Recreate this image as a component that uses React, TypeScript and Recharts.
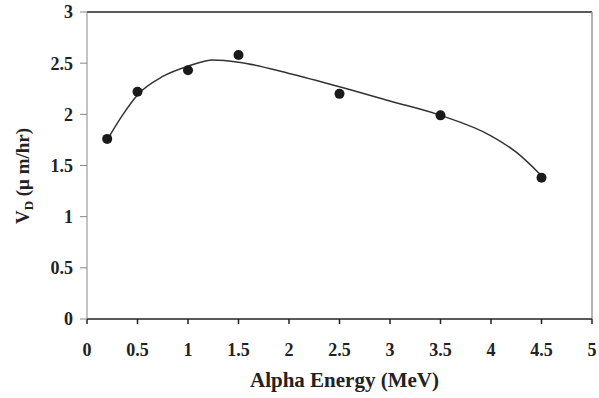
import React from "react";
import {
  ComposedChart,
  Line,
  Scatter,
  XAxis,
  YAxis,
  ReferenceLine,
} from "recharts";

// measured drift velocity points
const energies = [0.2, 0.5, 1.0, 1.5, 2.5, 3.5, 4.5];
const velocities = [1.76, 2.22, 2.43, 2.58, 2.2, 1.99, 1.38];

// trend line
const fitEnergies = [0.2, 0.35, 0.5, 0.75, 1.0, 1.25, 1.5, 2.0, 2.5, 3.0, 3.5, 4.0, 4.25, 4.5];
const fitVelocities = [1.75, 1.99, 2.19, 2.37, 2.47, 2.53, 2.51, 2.4, 2.27, 2.13, 1.99, 1.79, 1.63, 1.4];

const xTicks = [0, 0.5, 1, 1.5, 2, 2.5, 3, 3.5, 4, 4.5, 5];
const yTicks = [0, 0.5, 1, 1.5, 2, 2.5, 3];

const points = energies.map((x, i) => ({ x, y: velocities[i] }));
const fit = fitEnergies.map((x, i) => ({ x, y: fitVelocities[i] }));

const FONT = "'Liberation Serif', 'DejaVu Serif', serif";
const tickStyle = { fontFamily: FONT, fontWeight: 700, fontSize: 18, fill: "#222" };

const XLabel = (props: any) => {
  const vb = props.viewBox;
  return (
    <text
      x={vb.x + vb.width / 2 + 5}
      y={vb.y + 68}
      textAnchor="middle"
      fontFamily={FONT}
      fontWeight={700}
      fontSize={21}
      fill="#222"
    >
      Alpha Energy (MeV)
    </text>
  );
};

const YLabel = () => (
  <text
    x={0}
    y={0}
    transform="translate(29, 176) rotate(-90)"
    textAnchor="middle"
    fontFamily={FONT}
    fontWeight={700}
    fontSize={19}
    fill="#222"
  >
    V<tspan fontSize={13} dy={4}>D</tspan>
    <tspan dy={-4}> (μ m/hr)</tspan>
  </text>
);

export default function App() {
  return (
    <div style={{ position: "absolute", left: 0, top: 0, background: "#fff" }}>
      <ComposedChart
        width={599}
        height={398}
        margin={{ top: 12, right: 7, left: 0, bottom: 0 }}
      >
        <XAxis
          type="number"
          dataKey="x"
          domain={[0, 5]}
          ticks={xTicks}
          height={79}
          tickSize={5}
          tickMargin={19}
          tick={tickStyle}
          stroke="#222"
          strokeWidth={1.5}
          label={<XLabel />}
        />
        <YAxis
          type="number"
          dataKey="y"
          domain={[0, 3]}
          ticks={yTicks}
          width={87}
          tickSize={7}
          tickMargin={7}
          tick={tickStyle}
          stroke="#888"
          label={<YLabel />}
        />
        <ReferenceLine y={3} stroke="#222" strokeWidth={1.5} />
        <ReferenceLine x={5} stroke="#999" strokeWidth={1.5} />
        <Line
          data={fit}
          dataKey="y"
          type="monotone"
          stroke="#333"
          strokeWidth={1.5}
          dot={false}
          activeDot={false}
          isAnimationActive={false}
        />
        <Scatter
          data={points}
          dataKey="y"
          fill="#1a1a1a"
          shape={(p: any) => <circle cx={p.cx} cy={p.cy} r={5} fill="#1a1a1a" />}
          isAnimationActive={false}
        />
      </ComposedChart>
    </div>
  );
}
